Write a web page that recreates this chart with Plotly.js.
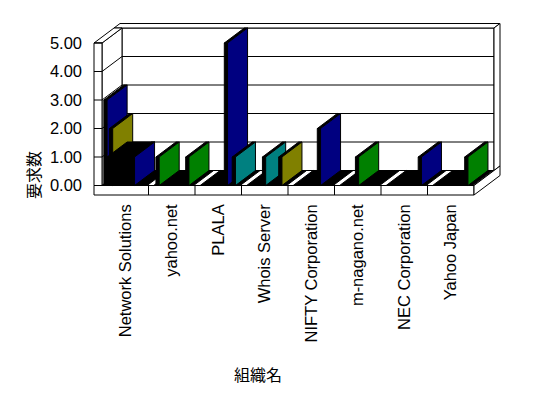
<!DOCTYPE html>
<html>
<head>
<meta charset="utf-8">
<script src="https://cdn.plot.ly/plotly-3.0.1.min.js"></script>
<style>html,body{margin:0;padding:0;background:#fff;}#chart{width:548px;height:398px;}</style>
</head>
<body>
<div id="chart"></div>
<script>
// ---------- data ----------
const categories = ['Network Solutions','yahoo.net','PLALA','Whois Server','NIFTY Corporation','m-nagano.net','NEC Corporation','Yahoo Japan'];
const yTickValues = [0, 1, 2, 3, 4, 5];
const yTickLabels = ['0.00', '1.00', '2.00', '3.00', '4.00', '5.00'];
const series0 = [1, 0, 0, 0, 0, 0, 0, 0];
const series1 = [3, 0, 0, 0, 0, 0, 0, 0];
const series2 = [2, 1, 0, 0, 0, 0, 0, 0];
const series3 = [0, 0, 0, 1, 0, 1, 0, 0];
const series4 = [1, 0, 5, 0, 2, 0, 0, 0];
const series5 = [0, 1, 1, 1, 0, 0, 1, 1];
const xTitle = '組織名';
const yTitle = '要求数';

// ---------- style ----------
const NAVY = '#000080', OLIVE = '#808000', GREEN = '#008000', TEAL = '#008080', BLACK = '#000000';
const colors1 = [NAVY, NAVY, NAVY, NAVY, NAVY, NAVY, NAVY, NAVY];
const colors2 = [OLIVE, GREEN, GREEN, GREEN, GREEN, GREEN, GREEN, GREEN];
const colors3 = [TEAL, TEAL, TEAL, TEAL, GREEN, GREEN, GREEN, GREEN];
const colors4 = [NAVY, NAVY, NAVY, NAVY, NAVY, NAVY, NAVY, NAVY];
const colors5 = [GREEN, GREEN, TEAL, OLIVE, NAVY, NAVY, NAVY, GREEN];
const plates = [
  {vals: series1, cols: colors1, pos: 0.11},
  {vals: series2, cols: colors2, pos: 0.23},
  {vals: series3, cols: colors3, pos: 0.52},
  {vals: series4, cols: colors4, pos: 0.70},
  {vals: series5, cols: colors5, pos: 0.87}
];
const blockLeft = 0.11;
const PXX = 46.5, PXY = 28.5;
const DXu = 20 / PXX, DYu = 15 / PXY;
const tl = 8 / PXX, tb = 0.3, tf = 9.5 / PXY, H = 5;
const nCat = categories.length;

function P(X, Y, Z) { return [X + Z * DXu, Y + Z * DYu]; }
const traces = [];
function poly(pts, fill, lw) {
  const xs = [], ys = [];
  pts.forEach(p => { const q = P(p[0], p[1], p[2]); xs.push(q[0]); ys.push(q[1]); });
  xs.push(xs[0]); ys.push(ys[0]);
  traces.push({type: 'scatter', mode: 'lines', x: xs, y: ys, fill: 'toself', fillcolor: fill,
    line: {color: '#000', width: lw === undefined ? 1 : lw}, hoverinfo: 'skip', showlegend: false});
}
function line(pts) {
  const xs = [], ys = [];
  pts.forEach(p => { const q = P(p[0], p[1], p[2]); xs.push(q[0]); ys.push(q[1]); });
  traces.push({type: 'scatter', mode: 'lines', x: xs, y: ys, line: {color: '#000', width: 1}, hoverinfo: 'skip', showlegend: false});
}

// walls & floor
poly([[0,0,1],[nCat,0,1],[nCat,H,1],[0,H,1]], '#fff');
poly([[-tl,H,1],[nCat,H,1],[nCat,H,1+tb],[-tl,H,1+tb]], '#fff');
poly([[nCat,0,1],[nCat,H,1],[nCat,H,1+tb],[nCat,0,1+tb]], '#fff');
poly([[0,0,0],[0,H,0],[0,H,1],[0,0,1]], '#fff');
poly([[-tl,H,0],[0,H,0],[0,H,1],[-tl,H,1]], '#fff');
poly([[-tl,0,0],[0,0,0],[0,H,0],[-tl,H,0]], '#fff');
poly([[0,0,0],[nCat,0,0],[nCat,0,1],[0,0,1]], '#fff');
poly([[-tl,-tf,0],[nCat,-tf,0],[nCat,0,0],[-tl,0,0]], '#fff');
poly([[nCat,-tf,0],[nCat,-tf,1+tb],[nCat,0,1+tb],[nCat,0,0]], '#fff');
yTickValues.forEach(v => {
  if (v > 0 && v < H) {
    line([[0,v,0],[0,v,1],[nCat,v,1]]);
  }
  line([[-tl,v,0],[0,v,0]]);
});
for (let i = 1; i < nCat; i++) line([[i,0,0],[i,-tf,0]]);

// floor bases under each category
for (let i = 0; i < nCat; i++) {
  poly([[i+0.11,0,0],[i+0.97,0,0],[i+0.97,0,1],[i+0.11,0,1]], BLACK);
}

// bars, drawn left to right
for (let i = 0; i < nCat; i++) {
  const items = plates.map((s, k) => ({k, v: s.vals[i], c: s.cols[i], x: i + s.pos}));
  items.forEach(it => {
    if (it.k === 3 && series0[i] > 0) {
      const v = series0[i], xl = i + blockLeft, xr = i + plates[3].pos;
      poly([[xl,0,0],[xr,0,0],[xr,v,0],[xl,v,0]], BLACK);
      poly([[xl,v,0],[xr,v,0],[xr,v,1],[xl,v,1]], BLACK);
    }
    if (it.v > 0) {
      const w = 0.07, X = it.x, v = it.v;
      poly([[X-w,0,0],[X,0,0],[X,v,0],[X-w,v,0]], BLACK);
      poly([[X-w,v,0],[X,v,0],[X,v,1],[X-w,v,1]], BLACK);
      poly([[X,0,0],[X,v,0],[X,v,1],[X,0,1]], it.c);
    }
  });
}

traces.push({type: 'scatter', x: [null], y: [null], xaxis: 'x', yaxis: 'y2', hoverinfo: 'skip', showlegend: false});

const L = 6, R = 38, T = 15, B = 198;
const plotW = 548 - L - R;
const xmin = (L - 102) / PXX, xmax = (548 - R - 102) / PXX;
const ymax = (185.5 - T) / PXY, ymin = (185.5 - (398 - B)) / PXY;
const tickFont = {family: 'Liberation Sans, Arial, sans-serif', size: 16.5, color: '#000'};
const titleFont = {family: 'Noto Sans CJK JP, sans-serif', size: 16, color: '#000'};

const layout = {
  width: 548, height: 398,
  margin: {l: L, r: R, t: T, b: B},
  paper_bgcolor: '#fff', plot_bgcolor: 'rgba(0,0,0,0)',
  showlegend: false,
  xaxis: {range: [xmin, xmax], showgrid: false, zeroline: false, showline: false, ticks: '',
    tickmode: 'array', tickvals: categories.map((c, i) => i + 0.5), ticktext: categories,
    tickangle: -90, tickfont: tickFont, automargin: false, fixedrange: true,
    title: {text: xTitle, font: titleFont, standoff: 28}},
  yaxis: {range: [ymin, ymax], anchor: 'free', position: (82 - L) / plotW, showgrid: false, zeroline: false,
    showline: false, ticks: '', tickmode: 'array', tickvals: yTickValues, ticktext: yTickLabels,
    tickfont: tickFont, automargin: false, fixedrange: true},
  yaxis2: {domain: [0, 0.27], anchor: 'free', position: (46 - L) / plotW, showgrid: false, zeroline: false,
    showline: false, ticks: '', showticklabels: false, automargin: false, fixedrange: true,
    title: {text: yTitle, font: titleFont, standoff: 0}}
};
Plotly.newPlot('chart', traces, layout, {displayModeBar: false, staticPlot: true});
</script>
</body>
</html>
